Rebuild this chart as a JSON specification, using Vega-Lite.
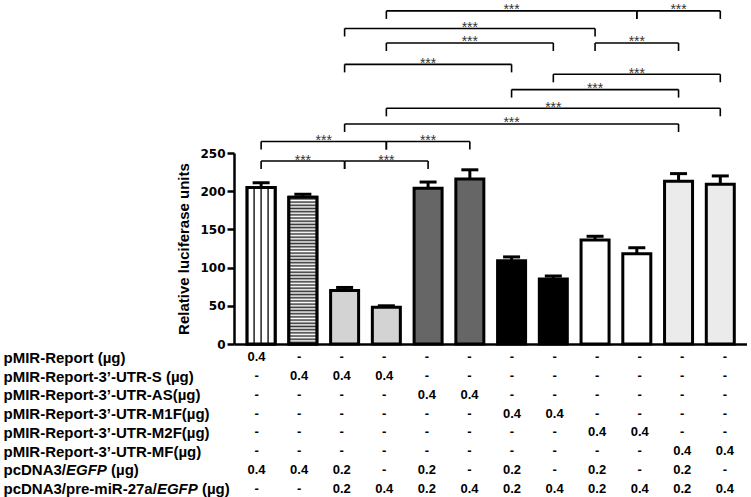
{
  "$schema": "https://vega.github.io/schema/vega-lite/v6.json",
  "background": "white",
  "padding": {"left": 3, "top": 3, "right": 0, "bottom": 0},
  "config": {
    "view": {"stroke": null},
    "font": "Liberation Sans",
    "axisY": {"grid": false, "domainColor": "black", "domainWidth": 2.5, "tickColor": "black", "tickWidth": 2.5, "tickSize": 7,
              "labelFont": "DejaVu Sans", "labelFontSize": 12, "labelFontWeight": "bold", "labelColor": "black", "labelPadding": 2,
              "labelOverlap": false, "titleFont": "Liberation Sans", "titleFontSize": 15, "titleFontWeight": "bold",
              "titleColor": "black", "titlePadding": 8}
  },
  "spacing": 0,
  "datasets": {
    "bars": [
      {"bar": 1, "value": 205, "hi": 211, "pat": "vs", "r1": "0.4", "r2": "-", "r3": "-", "r4": "-", "r5": "-", "r6": "-", "r7": "0.4", "r8": "-"},
      {"bar": 2, "value": 192, "hi": 196, "pat": "hs", "r1": "-", "r2": "0.4", "r3": "-", "r4": "-", "r5": "-", "r6": "-", "r7": "0.4", "r8": "-"},
      {"bar": 3, "value": 70, "hi": 74, "pat": "lg", "r1": "-", "r2": "0.4", "r3": "-", "r4": "-", "r5": "-", "r6": "-", "r7": "0.2", "r8": "0.2"},
      {"bar": 4, "value": 48, "hi": 50, "pat": "lg", "r1": "-", "r2": "0.4", "r3": "-", "r4": "-", "r5": "-", "r6": "-", "r7": "-", "r8": "0.4"},
      {"bar": 5, "value": 204, "hi": 212, "pat": "dg", "r1": "-", "r2": "-", "r3": "0.4", "r4": "-", "r5": "-", "r6": "-", "r7": "0.2", "r8": "0.2"},
      {"bar": 6, "value": 216, "hi": 228, "pat": "dg", "r1": "-", "r2": "-", "r3": "0.4", "r4": "-", "r5": "-", "r6": "-", "r7": "-", "r8": "0.4"},
      {"bar": 7, "value": 109, "hi": 114, "pat": "bk", "r1": "-", "r2": "-", "r3": "-", "r4": "0.4", "r5": "-", "r6": "-", "r7": "0.2", "r8": "0.2"},
      {"bar": 8, "value": 85, "hi": 89, "pat": "bk", "r1": "-", "r2": "-", "r3": "-", "r4": "0.4", "r5": "-", "r6": "-", "r7": "-", "r8": "0.4"},
      {"bar": 9, "value": 136, "hi": 141, "pat": "wh", "r1": "-", "r2": "-", "r3": "-", "r4": "-", "r5": "0.4", "r6": "-", "r7": "0.2", "r8": "0.2"},
      {"bar": 10, "value": 118, "hi": 126, "pat": "wh", "r1": "-", "r2": "-", "r3": "-", "r4": "-", "r5": "0.4", "r6": "-", "r7": "-", "r8": "0.4"},
      {"bar": 11, "value": 213, "hi": 223, "pat": "dt", "r1": "-", "r2": "-", "r3": "-", "r4": "-", "r5": "-", "r6": "0.4", "r7": "0.2", "r8": "0.2"},
      {"bar": 12, "value": 209, "hi": 220, "pat": "dt", "r1": "-", "r2": "-", "r3": "-", "r4": "-", "r5": "-", "r6": "0.4", "r7": "-", "r8": "0.4"}
    ],
    "brackets": [
      {"id": 1, "from": 4, "to": 10, "level": 436},
      {"id": 2, "from": 10, "to": 12, "level": 436},
      {"id": 3, "from": 3, "to": 9, "level": 413},
      {"id": 4, "from": 4, "to": 8, "level": 394},
      {"id": 5, "from": 9, "to": 11, "level": 394},
      {"id": 6, "from": 3, "to": 7, "level": 366},
      {"id": 7, "from": 8, "to": 12, "level": 353},
      {"id": 8, "from": 7, "to": 11, "level": 333},
      {"id": 9, "from": 4, "to": 12, "level": 308.5},
      {"id": 10, "from": 3, "to": 11, "level": 288},
      {"id": 11, "from": 1, "to": 4, "level": 265},
      {"id": 12, "from": 4, "to": 6, "level": 265},
      {"id": 13, "from": 1, "to": 3, "level": 239.5},
      {"id": 14, "from": 3, "to": 5, "level": 239.5}
    ]
  },
  "vconcat": [
    {
      "width": 513,
      "height": 191,
      "data": {"name": "bars"},
      "layer": [
        {
          "mark": {"type": "bar", "width": 28, "stroke": "black", "strokeWidth": 3},
          "encoding": {
            "x": {"field": "bar", "type": "quantitative", "scale": {"domain": [0.47, 12.52], "nice": false, "zero": false},
                  "axis": {"title": null, "labels": false, "ticks": false, "grid": false, "domainColor": "black", "domainWidth": 2.5}},
            "y": {"field": "value", "type": "quantitative", "scale": {"domain": [0, 250], "nice": false},
                  "title": "Relative luciferase units",
                  "axis": {"values": [0, 50, 100, 150, 200, 250], "tickCount": 6, "labelOverlap": false}},
            "fill": {"field": "pat", "type": "nominal", "legend": null,
                     "scale": {"domain": ["vs", "hs", "lg", "dg", "bk", "wh", "dt"],
                               "range": ["#ffffff", "#ffffff", "#d3d3d3", "#666666", "#000000", "#ffffff", "#ebebeb"]}}
          }
        },
        {
          "transform": [{"filter": "datum.pat == 'vs'"}],
          "mark": {"type": "bar", "width": 28, "stroke": "black", "strokeWidth": 3,
                   "fill": {"gradient": "linear", "x1": 0, "y1": 0, "x2": 1, "y2": 0, "stops": [
                     {"offset": 0, "color": "#ffffff"}, {"offset": 0.22, "color": "#ffffff"}, {"offset": 0.23, "color": "#444444"},
                     {"offset": 0.27, "color": "#444444"}, {"offset": 0.28, "color": "#ffffff"}, {"offset": 0.47, "color": "#ffffff"},
                     {"offset": 0.48, "color": "#444444"}, {"offset": 0.52, "color": "#444444"}, {"offset": 0.53, "color": "#ffffff"},
                     {"offset": 0.72, "color": "#ffffff"}, {"offset": 0.73, "color": "#444444"}, {"offset": 0.77, "color": "#444444"},
                     {"offset": 0.78, "color": "#ffffff"}, {"offset": 1, "color": "#ffffff"}]}},
          "encoding": {
            "x": {"field": "bar", "type": "quantitative"},
            "y": {"field": "value", "type": "quantitative", "title": "Relative luciferase units",
                  "axis": {"values": [0, 50, 100, 150, 200, 250], "tickCount": 6, "labelOverlap": false}}
          }
        },
        {
          "transform": [{"filter": "datum.pat == 'hs'"}],
          "mark": {"type": "bar", "width": 28, "stroke": "black", "strokeWidth": 3,
                   "fill": {"gradient": "linear", "x1": 0, "y1": 0, "x2": 0, "y2": 1, "stops": [
                     {"offset": 0, "color": "#fff"}, {"offset": 0.0109, "color": "#333"},
                     {"offset": 0.0217, "color": "#fff"}, {"offset": 0.0326, "color": "#333"},
                     {"offset": 0.0435, "color": "#fff"}, {"offset": 0.0543, "color": "#333"},
                     {"offset": 0.0652, "color": "#fff"}, {"offset": 0.0761, "color": "#333"},
                     {"offset": 0.0870, "color": "#fff"}, {"offset": 0.0978, "color": "#333"},
                     {"offset": 0.1087, "color": "#fff"}, {"offset": 0.1196, "color": "#333"},
                     {"offset": 0.1304, "color": "#fff"}, {"offset": 0.1413, "color": "#333"},
                     {"offset": 0.1522, "color": "#fff"}, {"offset": 0.1630, "color": "#333"},
                     {"offset": 0.1739, "color": "#fff"}, {"offset": 0.1848, "color": "#333"},
                     {"offset": 0.1957, "color": "#fff"}, {"offset": 0.2065, "color": "#333"},
                     {"offset": 0.2174, "color": "#fff"}, {"offset": 0.2283, "color": "#333"},
                     {"offset": 0.2391, "color": "#fff"}, {"offset": 0.2500, "color": "#333"},
                     {"offset": 0.2609, "color": "#fff"}, {"offset": 0.2717, "color": "#333"},
                     {"offset": 0.2826, "color": "#fff"}, {"offset": 0.2935, "color": "#333"},
                     {"offset": 0.3043, "color": "#fff"}, {"offset": 0.3152, "color": "#333"},
                     {"offset": 0.3261, "color": "#fff"}, {"offset": 0.3370, "color": "#333"},
                     {"offset": 0.3478, "color": "#fff"}, {"offset": 0.3587, "color": "#333"},
                     {"offset": 0.3696, "color": "#fff"}, {"offset": 0.3804, "color": "#333"},
                     {"offset": 0.3913, "color": "#fff"}, {"offset": 0.4022, "color": "#333"},
                     {"offset": 0.4130, "color": "#fff"}, {"offset": 0.4239, "color": "#333"},
                     {"offset": 0.4348, "color": "#fff"}, {"offset": 0.4457, "color": "#333"},
                     {"offset": 0.4565, "color": "#fff"}, {"offset": 0.4674, "color": "#333"},
                     {"offset": 0.4783, "color": "#fff"}, {"offset": 0.4891, "color": "#333"},
                     {"offset": 0.5000, "color": "#fff"}, {"offset": 0.5109, "color": "#333"},
                     {"offset": 0.5217, "color": "#fff"}, {"offset": 0.5326, "color": "#333"},
                     {"offset": 0.5435, "color": "#fff"}, {"offset": 0.5543, "color": "#333"},
                     {"offset": 0.5652, "color": "#fff"}, {"offset": 0.5761, "color": "#333"},
                     {"offset": 0.5870, "color": "#fff"}, {"offset": 0.5978, "color": "#333"},
                     {"offset": 0.6087, "color": "#fff"}, {"offset": 0.6196, "color": "#333"},
                     {"offset": 0.6304, "color": "#fff"}, {"offset": 0.6413, "color": "#333"},
                     {"offset": 0.6522, "color": "#fff"}, {"offset": 0.6630, "color": "#333"},
                     {"offset": 0.6739, "color": "#fff"}, {"offset": 0.6848, "color": "#333"},
                     {"offset": 0.6957, "color": "#fff"}, {"offset": 0.7065, "color": "#333"},
                     {"offset": 0.7174, "color": "#fff"}, {"offset": 0.7283, "color": "#333"},
                     {"offset": 0.7391, "color": "#fff"}, {"offset": 0.7500, "color": "#333"},
                     {"offset": 0.7609, "color": "#fff"}, {"offset": 0.7717, "color": "#333"},
                     {"offset": 0.7826, "color": "#fff"}, {"offset": 0.7935, "color": "#333"},
                     {"offset": 0.8043, "color": "#fff"}, {"offset": 0.8152, "color": "#333"},
                     {"offset": 0.8261, "color": "#fff"}, {"offset": 0.8370, "color": "#333"},
                     {"offset": 0.8478, "color": "#fff"}, {"offset": 0.8587, "color": "#333"},
                     {"offset": 0.8696, "color": "#fff"}, {"offset": 0.8804, "color": "#333"},
                     {"offset": 0.8913, "color": "#fff"}, {"offset": 0.9022, "color": "#333"},
                     {"offset": 0.9130, "color": "#fff"}, {"offset": 0.9239, "color": "#333"},
                     {"offset": 0.9348, "color": "#fff"}, {"offset": 0.9457, "color": "#333"},
                     {"offset": 0.9565, "color": "#fff"}, {"offset": 0.9674, "color": "#333"},
                     {"offset": 0.9783, "color": "#fff"}, {"offset": 0.9891, "color": "#333"},
                     {"offset": 1, "color": "#fff"}]}},
          "encoding": {
            "x": {"field": "bar", "type": "quantitative"},
            "y": {"field": "value", "type": "quantitative", "title": "Relative luciferase units",
                  "axis": {"values": [0, 50, 100, 150, 200, 250], "tickCount": 6, "labelOverlap": false}}
          }
        },
        {
          "mark": {"type": "rule", "strokeWidth": 3, "color": "black"},
          "encoding": {
            "x": {"field": "bar", "type": "quantitative"},
            "y": {"field": "value", "type": "quantitative", "title": "Relative luciferase units",
                  "axis": {"values": [0, 50, 100, 150, 200, 250], "tickCount": 6, "labelOverlap": false}},
            "y2": {"field": "hi"}
          }
        },
        {
          "mark": {"type": "tick", "orient": "horizontal", "size": 17, "thickness": 3, "color": "black", "opacity": 1},
          "encoding": {
            "x": {"field": "bar", "type": "quantitative"},
            "y": {"field": "hi", "type": "quantitative", "title": "Relative luciferase units",
                  "axis": {"values": [0, 50, 100, 150, 200, 250], "tickCount": 6, "labelOverlap": false}}
          }
        },
        {
          "data": {"name": "brackets"},
          "mark": {"type": "rule", "strokeWidth": 1.6, "color": "black"},
          "encoding": {
            "x": {"field": "from", "type": "quantitative"},
            "x2": {"field": "to"},
            "y": {"field": "level", "type": "quantitative", "title": "Relative luciferase units",
                  "axis": {"values": [0, 50, 100, 150, 200, 250], "tickCount": 6, "labelOverlap": false}}
          }
        },
        {
          "data": {"name": "brackets"},
          "transform": [{"fold": ["from", "to"], "as": ["end", "pos"]}],
          "mark": {"type": "rule", "strokeWidth": 1.6, "color": "black", "y2Offset": 8},
          "encoding": {
            "x": {"field": "pos", "type": "quantitative"},
            "y": {"field": "level", "type": "quantitative", "title": "Relative luciferase units",
                  "axis": {"values": [0, 50, 100, 150, 200, 250], "tickCount": 6, "labelOverlap": false}},
            "y2": {"field": "level"}
          }
        },
        {
          "data": {"name": "brackets"},
          "transform": [{"fold": ["from", "to"], "as": ["end", "pos"]}],
          "mark": {"type": "text", "text": "***", "font": "Liberation Sans", "fontSize": 14, "color": "#333333",
                   "baseline": "alphabetic", "align": "center", "dy": 3.5},
          "encoding": {
            "x": {"aggregate": "mean", "field": "pos", "type": "quantitative"},
            "y": {"field": "level", "type": "quantitative", "title": "Relative luciferase units",
                  "axis": {"values": [0, 50, 100, 150, 200, 250], "tickCount": 6, "labelOverlap": false}},
            "detail": {"field": "id", "type": "nominal"}
          }
        }
      ]
    },
    {
      "width": 513,
      "height": 146,
      "data": {"name": "bars"},
      "transform": [{"fold": ["r1", "r2", "r3", "r4", "r5", "r6", "r7", "r8"], "as": ["row", "cell"]}],
      "layer": [
        {
          "mark": {"type": "text", "font": "Liberation Sans", "fontSize": 13, "fontWeight": "bold", "color": "black"},
          "encoding": {
            "x": {"field": "bar", "type": "quantitative", "scale": {"domain": [0.47, 12.52], "nice": false, "zero": false}, "axis": null},
            "y": {"field": "row", "type": "nominal", "sort": ["r1", "r2", "r3", "r4", "r5", "r6", "r7", "r8"],
                  "scale": {"padding": 0.4},
                  "axis": {"orient": "left", "title": null, "domain": false, "ticks": false, "tickSize": 0, "labelAlign": "left",
                           "labelPadding": 231, "labelLimit": 400, "labelFont": "Liberation Sans", "labelFontSize": 15,
                           "labelFontWeight": "bold", "labelColor": "black",
                           "labelExpr": "datum.value == 'r1' ? 'pMIR-Report (µg)' : datum.value == 'r2' ? 'pMIR-Report-3’-UTR-S (µg)' : datum.value == 'r3' ? 'pMIR-Report-3’-UTR-AS(µg)' : datum.value == 'r4' ? 'pMIR-Report-3’-UTR-M1F(µg)' : datum.value == 'r5' ? 'pMIR-Report-3’-UTR-M2F(µg)' : datum.value == 'r6' ? 'pMIR-Report-3’-UTR-MF(µg)' : datum.value == 'r7' ? 'pcDNA3/' : 'pcDNA3/pre-miR-27a/'"}},
            "text": {"field": "cell", "type": "nominal"}
          }
        },
        {
          "mark": {"type": "text", "text": ""},
          "encoding": {
            "x": {"field": "bar", "type": "quantitative", "axis": null},
            "y": {"field": "row", "type": "nominal", "sort": ["r1", "r2", "r3", "r4", "r5", "r6", "r7", "r8"],
                  "axis": {"orient": "left", "title": null, "domain": false, "ticks": false, "tickSize": 0, "labelAlign": "left",
                           "labelPadding": {"condition": {"test": "datum.value == 'r7'", "value": 168.5}, "value": 77.6},
                           "labelLimit": 400, "labelFont": "Liberation Sans", "labelFontSize": 15,
                           "labelFontWeight": "bold", "labelFontStyle": "italic", "labelColor": "black",
                           "labelExpr": "datum.value == 'r7' || datum.value == 'r8' ? 'EGFP' : ''"}}
          }
        },
        {
          "mark": {"type": "text", "text": ""},
          "encoding": {
            "x": {"field": "bar", "type": "quantitative", "axis": null},
            "y": {"field": "row", "type": "nominal", "sort": ["r1", "r2", "r3", "r4", "r5", "r6", "r7", "r8"],
                  "axis": {"orient": "left", "title": null, "domain": false, "ticks": false, "tickSize": 0, "labelAlign": "left",
                           "labelPadding": {"condition": {"test": "datum.value == 'r7'", "value": 123.5}, "value": 32.6},
                           "labelLimit": 400, "labelFont": "Liberation Sans", "labelFontSize": 15,
                           "labelFontWeight": "bold", "labelColor": "black",
                           "labelExpr": "datum.value == 'r7' || datum.value == 'r8' ? '(µg)' : ''"}}
          }
        }
      ],
      "resolve": {"scale": {"y": "shared"}, "axis": {"y": "independent"}}
    }
  ]
}
